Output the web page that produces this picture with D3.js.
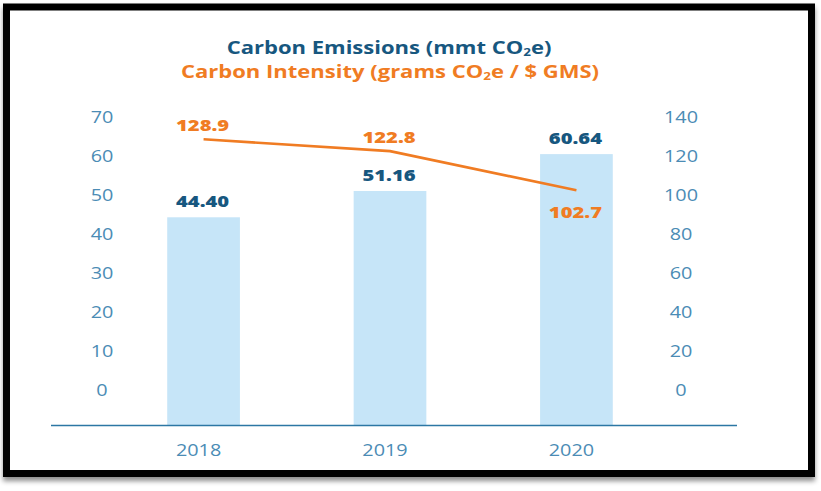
<!DOCTYPE html>
<html>
<head>
<meta charset="utf-8">
<script src="https://cdn.jsdelivr.net/npm/d3@7"></script>
<style>
  html, body { margin: 0; padding: 0; background: #ffffff; }
  svg { display: block; }
</style>
</head>
<body>
<svg id="chart" width="821" height="491"></svg>
<script>
// ---- Data ----
const years = ["2018", "2019", "2020"];
const emissions = [44.40, 51.16, 60.64];          // mmt CO2e (bars, left axis)
const intensity = [128.9, 122.8, 102.7];          // grams CO2e / $ GMS (line, right axis)
const leftTicks = [0, 10, 20, 30, 40, 50, 60, 70];
const rightTicks = [0, 20, 40, 60, 80, 100, 120, 140];
const emissionLabels = ["44.40", "51.16", "60.64"];
const intensityLabels = ["128.9", "122.8", "102.7"];

// ---- Styles ----
const SX = 1.28;                 // horizontal stretch of the lettering
const FONT = "'Open Sans', 'Noto Sans', sans-serif";
const C_TICK = "#4b8cb5";
const C_BLUE = "#17577f";
const C_ORANGE = "#f07c23";
const C_BAR = "#c6e5f8";
const C_AXIS = "#2c77a4";

const svg = d3.select("#chart");

// frame with shadow
const defs = svg.append("defs");
const f = defs.append("filter").attr("id", "shadow").attr("x", "-5%").attr("y", "-5%").attr("width", "110%").attr("height", "115%");
f.append("feDropShadow").attr("dx", 0).attr("dy", 4).attr("stdDeviation", 2.5).attr("flood-color", "#000").attr("flood-opacity", 0.45);

svg.append("rect")
  .attr("x", 6.5).attr("y", 7).attr("width", 805).attr("height", 466.5)
  .attr("fill", "#fff").attr("stroke", "#000").attr("stroke-width", 7)
  .attr("filter", "url(#shadow)");

// ---- Scales ----
const x = d3.scaleBand().domain(years).range([74, 706]).paddingInner(0.61).paddingOuter(0.5);
const yL = d3.scaleLinear().domain([-9, 70]).range([425, 117.7]);
const yR = d3.scaleLinear().domain([-18, 140]).range([425, 117.7]);

function place(sel, px, py) {
  return sel.attr("transform", `translate(${px},${py}) scale(${SX},1)`);
}

// ---- Bars ----
svg.append("g").selectAll("rect").data(years).join("rect")
  .attr("x", d => x(d))
  .attr("width", x.bandwidth())
  .attr("y", (d, i) => yL(emissions[i]))
  .attr("height", (d, i) => yL(yL.domain()[0]) - yL(emissions[i]))
  .attr("fill", C_BAR);

// ---- Baseline axis ----
svg.append("line")
  .attr("x1", 51).attr("x2", 737)
  .attr("y1", yL(yL.domain()[0]) + 0.5).attr("y2", yL(yL.domain()[0]) + 0.5)
  .attr("stroke", C_AXIS).attr("stroke-width", 1.6);

// ---- Tick labels ----
const leftAxisX = 102, rightAxisX = 681;
svg.append("g").selectAll("text").data(leftTicks).join("text")
  .each(function(d) { place(d3.select(this), leftAxisX, yL(d)); })
  .attr("dy", "0.36em").attr("text-anchor", "middle")
  .attr("font-family", FONT).attr("font-size", 15.5).attr("fill", C_TICK)
  .text(d => d);

svg.append("g").selectAll("text").data(rightTicks).join("text")
  .each(function(d) { place(d3.select(this), rightAxisX, yR(d)); })
  .attr("dy", "0.36em").attr("text-anchor", "middle")
  .attr("font-family", FONT).attr("font-size", 15.5).attr("fill", C_TICK)
  .text(d => d);

// year labels
svg.append("g").selectAll("text").data(years).join("text")
  .each(function(d) { place(d3.select(this), x(d) + x.bandwidth() / 2 - 5, 450); })
  .attr("dy", "0.36em").attr("text-anchor", "middle")
  .attr("font-family", FONT).attr("font-size", 15.5).attr("fill", C_TICK)
  .text(d => d);

// ---- Line ----
const line = d3.line()
  .x((d, i) => x(years[i]) + x.bandwidth() / 2)
  .y(d => yR(d));
svg.append("path")
  .datum(intensity)
  .attr("d", line)
  .attr("fill", "none").attr("stroke", C_ORANGE).attr("stroke-width", 2.6);

// ---- Value labels ----
svg.append("g").selectAll("text").data(years).join("text")
  .each(function(d, i) { place(d3.select(this), x(d) + x.bandwidth() / 2 - 1, yL(emissions[i]) - 10); })
  .attr("text-anchor", "middle")
  .attr("font-family", FONT).attr("font-weight", 800).attr("font-size", 15.8)
  .attr("fill", C_BLUE)
  .text((d, i) => emissionLabels[i]);

svg.append("g").selectAll("text").data(years).join("text")
  .each(function(d, i) {
    const last = i === years.length - 1;
    place(d3.select(this), x(d) + x.bandwidth() / 2 - 1, yR(intensity[i]) + (last ? 28 : -8));
  })
  .attr("text-anchor", "middle")
  .attr("font-family", FONT).attr("font-weight", 800).attr("font-size", 15.8)
  .attr("fill", C_ORANGE)
  .text((d, i) => intensityLabels[i]);

// ---- Titles ----
const t1 = svg.append("text").attr("text-anchor", "middle")
  .attr("font-family", FONT).attr("font-weight", 700).attr("font-size", 17.2).attr("fill", C_BLUE);
place(t1, 389, 53.6);
t1.append("tspan").text("Carbon Emissions (mmt CO");
t1.append("tspan").attr("font-size", 10.5).attr("dy", 2.5).text("2");
t1.append("tspan").attr("dy", -2.5).text("e)");

const t2 = svg.append("text").attr("text-anchor", "middle")
  .attr("font-family", FONT).attr("font-weight", 700).attr("font-size", 17.2).attr("fill", C_ORANGE);
place(t2, 390, 77.8);
t2.append("tspan").text("Carbon Intensity (grams CO");
t2.append("tspan").attr("font-size", 10.5).attr("dy", 2.5).text("2");
t2.append("tspan").attr("dy", -2.5).text("e / $ GMS)");
</script>
</body>
</html>
